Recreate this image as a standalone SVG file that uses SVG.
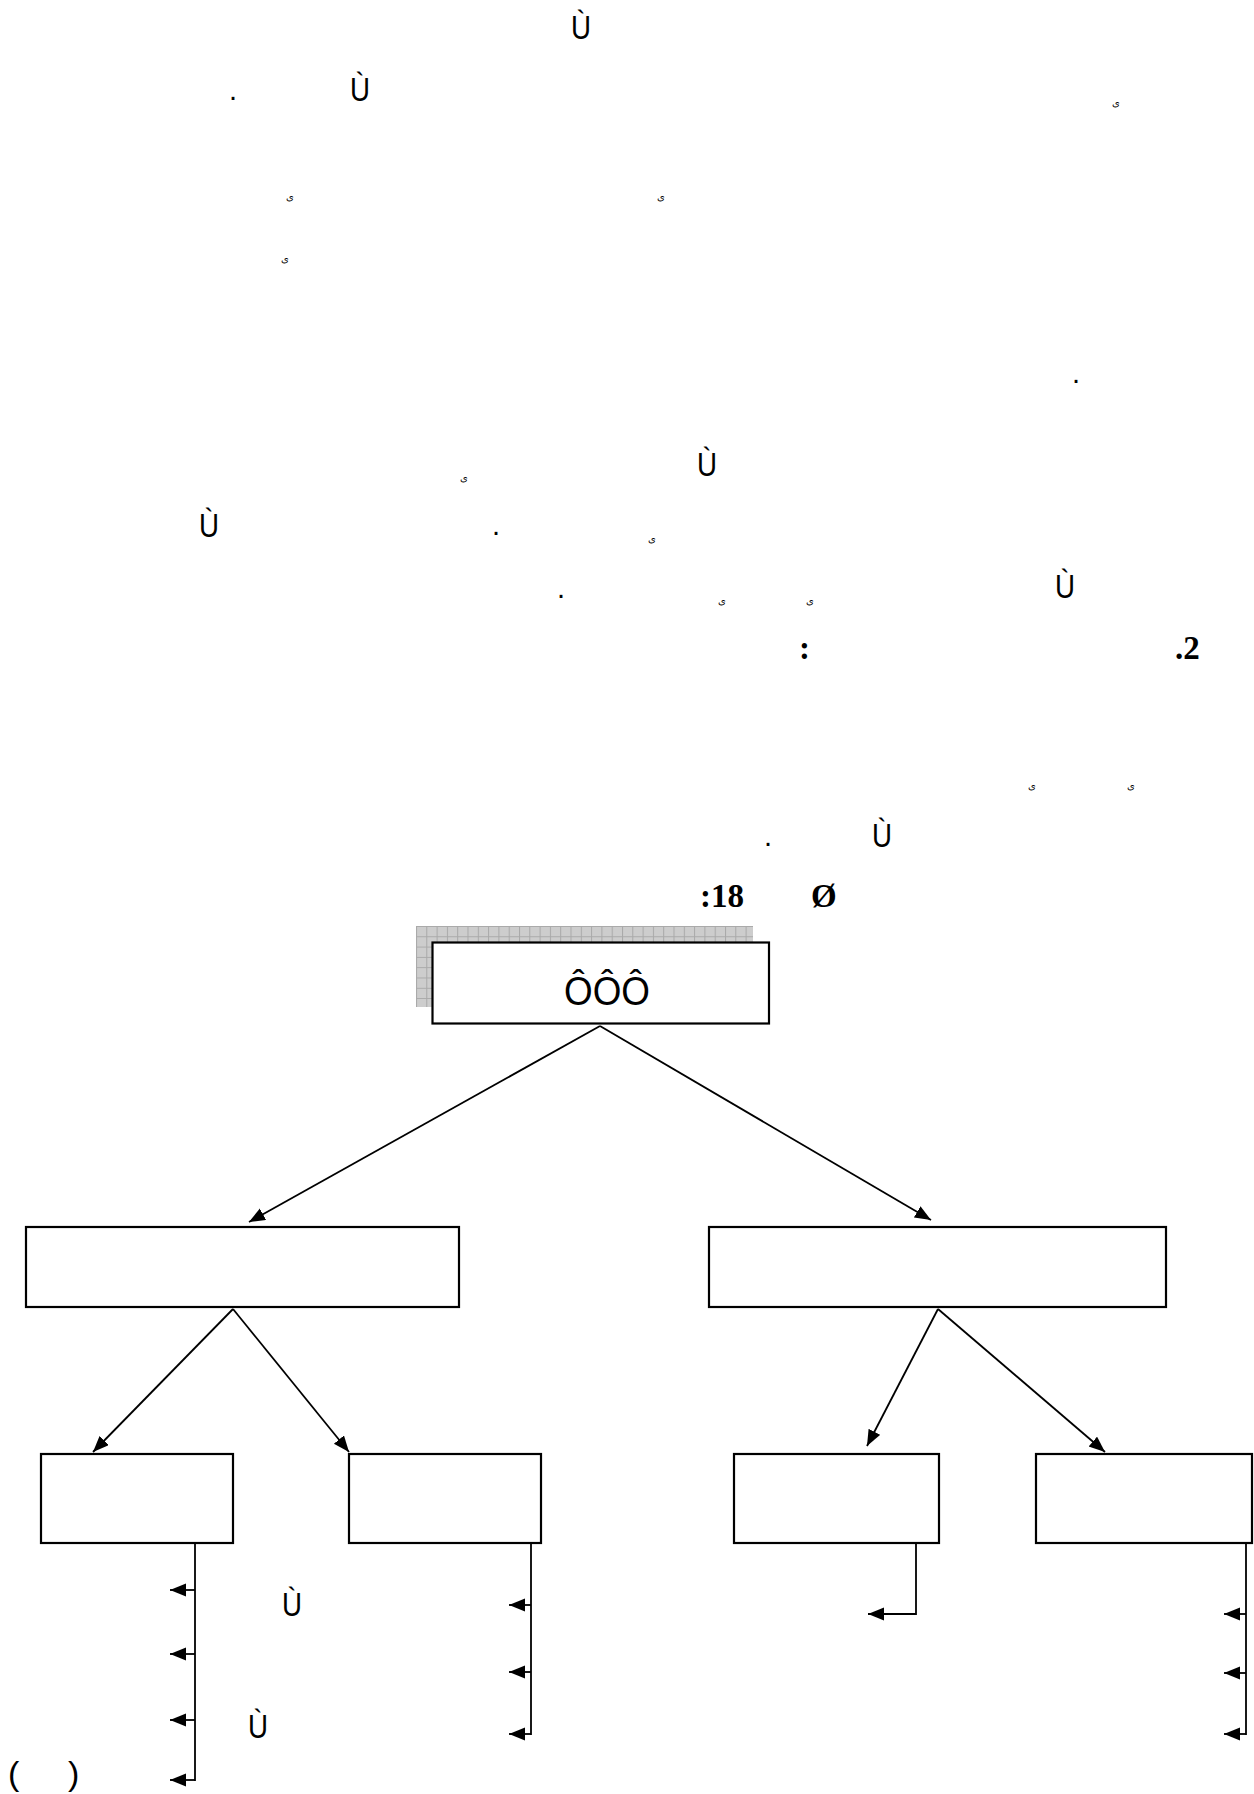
<svg xmlns="http://www.w3.org/2000/svg" width="1254" height="1794" viewBox="0 0 1254 1794">
<defs>
<style>
.t{font-family:"Liberation Sans",Arial,sans-serif;font-size:29px;fill:#000}
.u{font-family:"Liberation Sans",Arial,sans-serif;font-size:33px;fill:#000}
.s{font-family:"DejaVu Sans","Noto Sans",sans-serif;font-size:10px;fill:#000}
.b{font-family:"Liberation Serif","Times New Roman",serif;font-weight:bold;font-size:33px;fill:#000}
.box{fill:#fff;stroke:#000;stroke-width:2.2}
.c{fill:none;stroke:#000;stroke-width:1.8}
</style>
<pattern id="grid" width="10.3" height="10.3" patternUnits="userSpaceOnUse" x="416" y="926">
<rect width="10.3" height="10.3" fill="#cdcdcd"/>
<path d="M0,0.5 H10.3 M0.5,0 V10.3" stroke="#a9a9a9" stroke-width="1"/>
</pattern>
<marker id="ah" markerUnits="userSpaceOnUse" markerWidth="17" markerHeight="14" refX="16" refY="6.5" orient="auto">
<path d="M0,0 L16,6.5 L0,13 z" fill="#000"/>
</marker>
</defs>
<rect width="1254" height="1794" fill="#fff"/>

<g id="text">
<text class="u" x="571" y="39" textLength="20" lengthAdjust="spacingAndGlyphs">Ù</text>
<text class="t" x="229" y="100">.</text>
<text class="u" x="350" y="101" textLength="20" lengthAdjust="spacingAndGlyphs">Ù</text>
<text class="s" x="1112" y="106">ى</text>
<text class="s" x="286" y="200">ى</text>
<text class="s" x="657" y="200">ى</text>
<text class="s" x="281" y="262">ى</text>
<text class="t" x="1072" y="383">.</text>
<text class="u" x="697" y="476" textLength="20" lengthAdjust="spacingAndGlyphs">Ù</text>
<text class="s" x="460" y="481">ى</text>
<text class="u" x="199" y="537" textLength="20" lengthAdjust="spacingAndGlyphs">Ù</text>
<text class="t" x="492" y="535">.</text>
<text class="s" x="648" y="542">ى</text>
<text class="u" x="1055" y="598" textLength="20" lengthAdjust="spacingAndGlyphs">Ù</text>
<text class="t" x="557" y="598">.</text>
<text class="s" x="718" y="604">ى</text>
<text class="s" x="806" y="604">ى</text>
<text class="b" x="799" y="659">:</text>
<text class="b" x="1175" y="659">.2</text>
<text class="s" x="1028" y="789">ى</text>
<text class="s" x="1127" y="789">ى</text>
<text class="t" x="764" y="846">.</text>
<text class="u" x="872" y="847" textLength="20" lengthAdjust="spacingAndGlyphs">Ù</text>
<text class="b" x="700" y="907">:18</text>
<text class="b" x="811" y="907">Ø</text>
<text class="u" x="282" y="1616" textLength="20" lengthAdjust="spacingAndGlyphs">Ù</text>
<text class="u" x="248" y="1738" textLength="20" lengthAdjust="spacingAndGlyphs">Ù</text>
<text class="t" x="8" y="1785" style="font-size:34px">(</text>
<text class="t" x="68" y="1785" style="font-size:34px">)</text>
</g>

<g id="node-top">
<rect x="416" y="926" width="337" height="81" fill="url(#grid)"/>
<rect class="box" x="432.5" y="942.5" width="336.5" height="81"/>
<text x="607" y="1005" text-anchor="middle" textLength="86" lengthAdjust="spacingAndGlyphs" style="font-family:'Liberation Sans',Arial,sans-serif;font-size:41px">ÔÔÔ</text>
</g>
<g id="node-mid-left"><rect class="box" x="26" y="1227" width="433" height="80"/></g>
<g id="node-mid-right"><rect class="box" x="709" y="1227" width="457" height="80"/></g>
<g id="node-b1"><rect class="box" x="41" y="1454" width="192" height="89"/></g>
<g id="node-b2"><rect class="box" x="349" y="1454" width="192" height="89"/></g>
<g id="node-b3"><rect class="box" x="734" y="1454" width="205" height="89"/></g>
<g id="node-b4"><rect class="box" x="1036" y="1454" width="216" height="89"/></g>

<g id="connectors">
<line class="c" x1="600" y1="1026" x2="249" y2="1222" marker-end="url(#ah)"/>
<line class="c" x1="600" y1="1026" x2="931" y2="1220" marker-end="url(#ah)"/>
<line class="c" x1="233" y1="1309" x2="93" y2="1452" marker-end="url(#ah)"/>
<line class="c" x1="233" y1="1309" x2="349" y2="1452" marker-end="url(#ah)"/>
<line class="c" x1="938" y1="1309" x2="867" y2="1446" marker-end="url(#ah)"/>
<line class="c" x1="938" y1="1309" x2="1105" y2="1452" marker-end="url(#ah)"/>

<line class="c" x1="195" y1="1543" x2="195" y2="1781"/>
<line class="c" x1="195" y1="1590" x2="170" y2="1590" marker-end="url(#ah)"/>
<line class="c" x1="195" y1="1654" x2="170" y2="1654" marker-end="url(#ah)"/>
<line class="c" x1="195" y1="1720" x2="170" y2="1720" marker-end="url(#ah)"/>
<line class="c" x1="195" y1="1780" x2="170" y2="1780" marker-end="url(#ah)"/>

<line class="c" x1="531" y1="1543" x2="531" y2="1735"/>
<line class="c" x1="531" y1="1605" x2="509" y2="1605" marker-end="url(#ah)"/>
<line class="c" x1="531" y1="1672" x2="509" y2="1672" marker-end="url(#ah)"/>
<line class="c" x1="531" y1="1734" x2="509" y2="1734" marker-end="url(#ah)"/>

<polyline class="c" points="916,1543 916,1614 868,1614" marker-end="url(#ah)"/>

<line class="c" x1="1246" y1="1543" x2="1246" y2="1735"/>
<line class="c" x1="1246" y1="1614" x2="1224" y2="1614" marker-end="url(#ah)"/>
<line class="c" x1="1246" y1="1673" x2="1224" y2="1673" marker-end="url(#ah)"/>
<line class="c" x1="1246" y1="1734" x2="1224" y2="1734" marker-end="url(#ah)"/>
</g>
</svg>
